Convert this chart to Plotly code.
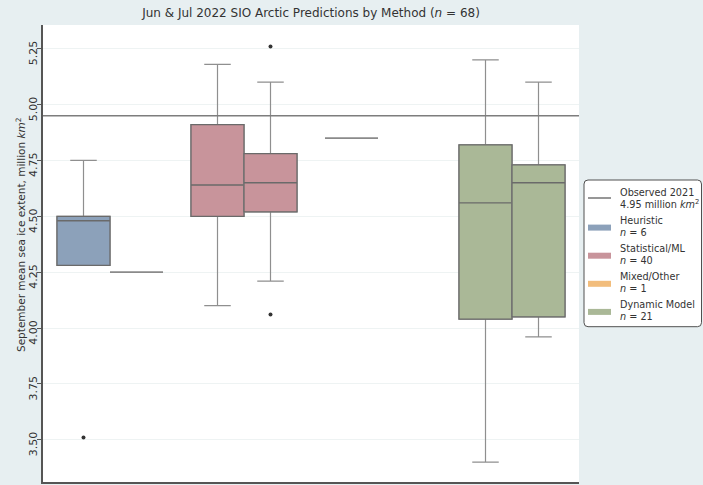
import plotly.graph_objects as go

# ---- data -------------------------------------------------------------
methods = ["Heuristic", "Statistical/ML", "Mixed/Other", "Dynamic Model"]
method_counts = [6, 40, 1, 21]
months = ["Jun", "Jul"]

# box summaries for each (method, month) that has forecasts
box_method = ["Heuristic", "Heuristic", "Statistical/ML", "Statistical/ML",
              "Mixed/Other", "Dynamic Model", "Dynamic Model"]
box_month = ["Jun", "Jul", "Jun", "Jul", "Jun", "Jun", "Jul"]
lower_adj = [4.28, 4.25, 4.10, 4.21, 4.85, 3.40, 3.96]
q1 = [4.28, 4.25, 4.50, 4.52, 4.85, 4.04, 4.05]
median = [4.48, 4.25, 4.64, 4.65, 4.85, 4.56, 4.65]
q3 = [4.50, 4.25, 4.91, 4.78, 4.85, 4.82, 4.73]
upper_adj = [4.75, 4.25, 5.18, 5.10, 4.85, 5.20, 5.10]

outlier_method = ["Heuristic", "Statistical/ML", "Statistical/ML"]
outlier_month = ["Jun", "Jul", "Jul"]
outlier_value = [3.51, 5.26, 4.06]

observed_year = 2021
observed_extent = 4.95

y_ticks = [3.50, 3.75, 4.00, 4.25, 4.50, 4.75, 5.00, 5.25]

# ---- style ------------------------------------------------------------
method_colors = {
    "Heuristic": "#8ca1ba",
    "Statistical/ML": "#c8949b",
    "Mixed/Other": "#f2bd7c",
    "Dynamic Model": "#aab897",
}
FONT = "DejaVu Sans"
TEXT = "#333333"
BG = "#e7eff1"
OUTLINE = "#6a6a6a"
WHISKER = "#8f8f8f"
REFLINE = "#7d7d7d"

W, H = 703, 485
L, R, T, B = 43, 579, 25, 482          # plot area in pixels
GAP = 0.528                             # gap between method groups (box widths)
PITCH = 2 + GAP
X_RANGE = [0, PITCH * len(methods)]
Y_RANGE = [3.311, 5.356]


def slot_x(method, month):
    return methods.index(method) * PITCH + GAP / 2 + months.index(month) + 0.5


def px_x(p):
    return (p - L) / (R - L)


def px_y(p):
    return (B - p) / (B - T)


def rounded_rect(x0, y0, x1, y1, r):
    """SVG path (paper coords) for a pixel box with rounded corners."""
    X0, X1 = px_x(x0), px_x(x1)
    Y0, Y1 = px_y(y1), px_y(y0)        # bottom, top
    rx, ry = r / (R - L), r / (B - T)
    return (f"M {X0 + rx},{Y0} L {X1 - rx},{Y0} Q {X1},{Y0} {X1},{Y0 + ry} "
            f"L {X1},{Y1 - ry} Q {X1},{Y1} {X1 - rx},{Y1} "
            f"L {X0 + rx},{Y1} Q {X0},{Y1} {X0},{Y1 - ry} "
            f"L {X0},{Y0 + ry} Q {X0},{Y0} {X0 + rx},{Y0} Z")


fig = go.Figure()

for i in range(len(box_method)):
    xpos = slot_x(box_method[i], box_month[i])
    single = q1[i] == q3[i] == lower_adj[i] == upper_adj[i]
    if single:
        fig.add_trace(go.Box(
            x=[xpos], q1=[q1[i]], median=[median[i]], q3=[q3[i]],
            lowerfence=[lower_adj[i]], upperfence=[upper_adj[i]],
            width=1.0, whiskerwidth=0, boxpoints=False,
            fillcolor="rgba(0,0,0,0)", line=dict(color="#8a8a8a", width=1.8),
            showlegend=False, hoverinfo="skip"))
        continue
    color = method_colors[box_method[i]]
    # whiskers and caps
    fig.add_trace(go.Box(
        x=[xpos], q1=[q1[i]], median=[median[i]], q3=[q3[i]],
        lowerfence=[lower_adj[i]], upperfence=[upper_adj[i]],
        width=1.0, whiskerwidth=0.5, boxpoints=False,
        fillcolor=color, line=dict(color=WHISKER, width=1.2),
        showlegend=False, hoverinfo="skip"))
    # box body with median
    fig.add_trace(go.Box(
        x=[xpos], q1=[q1[i]], median=[median[i]], q3=[q3[i]],
        lowerfence=[q1[i]], upperfence=[q3[i]],
        width=1.0, whiskerwidth=0, boxpoints=False,
        fillcolor=color, line=dict(color=OUTLINE, width=1.3),
        showlegend=False, hoverinfo="skip"))

fig.add_trace(go.Scatter(
    x=[slot_x(m, mo) for m, mo in zip(outlier_method, outlier_month)],
    y=outlier_value, mode="markers",
    marker=dict(color="#333333", size=4),
    showlegend=False, hoverinfo="skip"))

shapes = []
annotations = []

# observed extent reference line
shapes.append(dict(type="line", xref="paper", yref="y", x0=0, x1=1,
                   y0=observed_extent, y1=observed_extent, layer="above",
                   line=dict(color=REFLINE, width=1.6)))

# ---- legend (drawn in paper space) -----------------------------------
shapes.append(dict(type="path", xref="paper", yref="paper",
                   path=rounded_rect(584, 180, 701.5, 326.7, 4),
                   fillcolor="white", line=dict(color="#505050", width=1)))
leg_font = dict(family=FONT, size=9.7, color=TEXT)
sym_x0, sym_x1, text_x = 588, 611, 617.5

entries = [("line", REFLINE, f"Observed {observed_year}",
            f"{observed_extent:.2f} million <i>km</i><sup>2</sup>")]
for m, n in zip(methods, method_counts):
    entries.append(("rect", method_colors[m], m, f"<i>n</i> = {n}"))

for k, (kind, col, line1, line2) in enumerate(entries):
    yc = 199.5 + 28.1 * k
    if kind == "line":
        shapes.append(dict(type="line", xref="paper", yref="paper",
                           x0=px_x(sym_x0), x1=px_x(sym_x1),
                           y0=px_y(yc - 1.5), y1=px_y(yc - 1.5),
                           line=dict(color=col, width=1.6)))
    else:
        shapes.append(dict(type="rect", xref="paper", yref="paper",
                           x0=px_x(sym_x0), x1=px_x(sym_x1),
                           y0=px_y(yc + 3), y1=px_y(yc - 3),
                           fillcolor=col, line=dict(width=0)))
    for txt, dy in ((line1, -7), (line2, 5)):
        annotations.append(dict(text=txt, xref="paper", yref="paper",
                                x=px_x(text_x), y=px_y(yc + dy),
                                xanchor="left", yanchor="middle",
                                showarrow=False, font=leg_font))

# axis title
annotations.append(dict(text="September mean sea ice extent, million <i>km</i><sup>2</sup>",
                        xref="paper", yref="paper", x=px_x(21), y=px_y(235),
                        xanchor="center", yanchor="middle", textangle=-90,
                        showarrow=False, font=dict(family=FONT, size=10.5, color=TEXT)))

fig.update_layout(
    width=W, height=H,
    margin=dict(l=L, r=W - R, t=T, b=H - B, pad=0),
    paper_bgcolor=BG, plot_bgcolor="white",
    title=dict(text=f"Jun & Jul 2022 SIO Arctic Predictions by Method (<i>n</i> = {sum(method_counts)})",
               x=px_x((L + R) / 2), xref="paper", xanchor="center",
               y=1 - 12.5 / H, yref="container", yanchor="middle",
               font=dict(family=FONT, size=12, color=TEXT)),
    shapes=shapes, annotations=annotations,
    showlegend=False,
    xaxis=dict(range=X_RANGE, showgrid=False, zeroline=False, showticklabels=False,
               ticks="", showline=True, linecolor="#555555", linewidth=1.5, fixedrange=True),
    yaxis=dict(range=Y_RANGE, tickvals=y_ticks, tickformat=".2f", tickangle=-90,
               ticks="outside", ticklen=4, tickwidth=1, tickcolor="#555555",
               ticklabelstandoff=-4, ticklabelshift=6,
               tickfont=dict(family=FONT, size=11, color=TEXT),
               showgrid=True, gridcolor="#eef3f3", gridwidth=1, zeroline=False,
               showline=True, linecolor="#555555", linewidth=1.5),
)

fig.write_html("out.html")
